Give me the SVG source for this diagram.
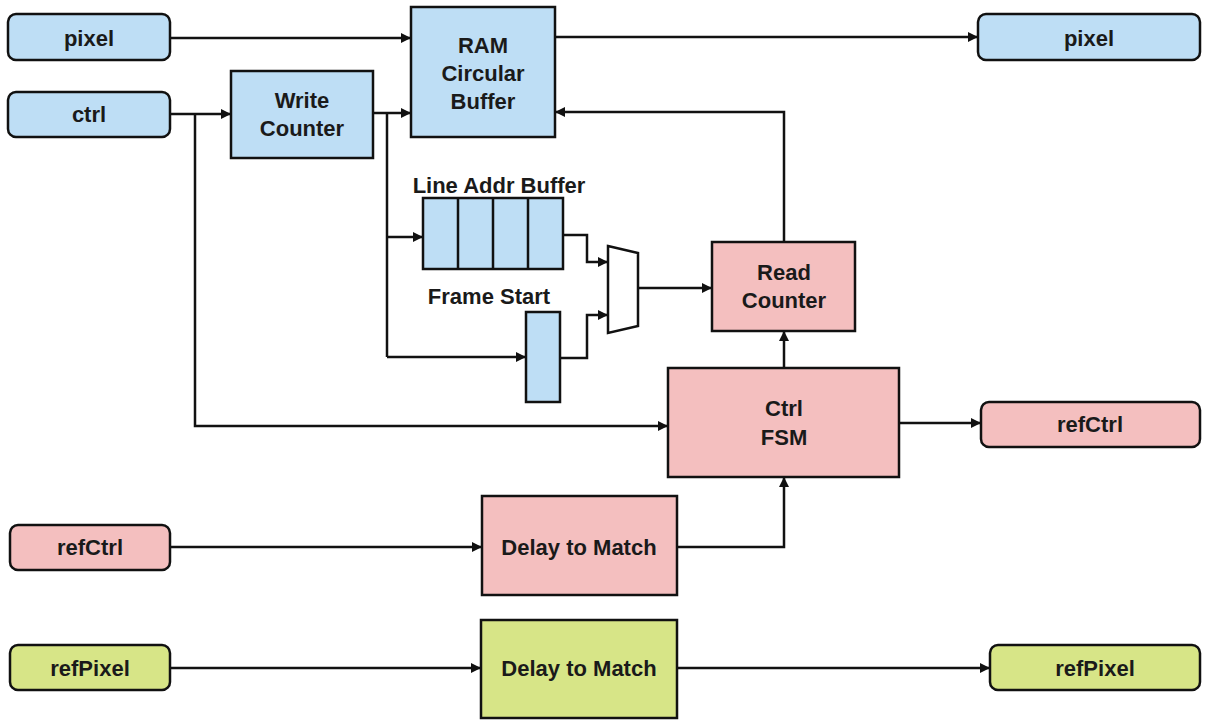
<svg xmlns="http://www.w3.org/2000/svg" width="1215" height="722" viewBox="0 0 1215 722">
<style>
.t{font-family:"Liberation Sans",Arial,sans-serif;font-weight:bold;font-size:22px;fill:#1a1a1a;text-anchor:middle;dominant-baseline:central}
.b{fill:#BEDEF5;stroke:#111;stroke-width:2.5}
.p{fill:#F4BFBF;stroke:#111;stroke-width:2.5}
.g{fill:#D7E587;stroke:#111;stroke-width:2.5}
.c{fill:none;stroke:#111;stroke-width:2.5;marker-end:url(#ah)}
.n{fill:none;stroke:#111;stroke-width:2.5}
</style>
<defs>
<marker id="ah" viewBox="0 0 10 10" refX="10" refY="5" markerWidth="4.4" markerHeight="4" orient="auto" markerUnits="strokeWidth">
<path d="M0,0 L10,5 L0,10 z" fill="#111"/>
</marker>
</defs>
<rect width="1215" height="722" fill="#fff"/>
<g id="connectors">
<path class="c" d="M170,38 H411"/>
<path class="c" d="M555,37 H978"/>
<path class="c" d="M170,114 H231"/>
<path class="c" d="M195,114 V426 H668"/>
<path class="c" d="M373,113 H411"/>
<path class="n" d="M387,113 V357"/>
<path class="c" d="M387,237 H423"/>
<path class="c" d="M387,357 H526"/>
<path class="c" d="M563,235 H587 V262 H608"/>
<path class="c" d="M560,358 H587 V315 H608"/>
<path class="c" d="M638,288 H712"/>
<path class="c" d="M784,242 V112 H555"/>
<path class="c" d="M784,368 V331"/>
<path class="c" d="M899,423 H981"/>
<path class="c" d="M170,547 H482"/>
<path class="c" d="M677,547 H784 V477"/>
<path class="c" d="M170,668 H481"/>
<path class="c" d="M677,668 H990"/>
</g>
<g id="pixel-in"><rect class="b" x="8" y="14" width="162" height="46" rx="8"/><text class="t" x="89" y="38">pixel</text></g>
<g id="ctrl-in"><rect class="b" x="8" y="92" width="162" height="45" rx="8"/><text class="t" x="89" y="114">ctrl</text></g>
<g id="write-counter"><rect class="b" x="231" y="71" width="142" height="87"/><text class="t" x="302" y="100">Write</text><text class="t" x="302" y="128">Counter</text></g>
<g id="ram"><rect class="b" x="411" y="7" width="144" height="130"/><text class="t" x="483" y="45">RAM</text><text class="t" x="483" y="73">Circular</text><text class="t" x="483" y="101">Buffer</text></g>
<g id="pixel-out"><rect class="b" x="978" y="14" width="222" height="46" rx="8"/><text class="t" x="1089" y="38">pixel</text></g>
<g id="line-addr-buffer">
<text class="t" x="499" y="185">Line Addr Buffer</text>
<rect class="b" x="423" y="198" width="140" height="71"/>
<path class="n" d="M458,198 V269 M493,198 V269 M528,198 V269"/>
</g>
<g id="frame-start"><text class="t" x="489" y="296">Frame Start</text><rect class="b" x="526" y="312" width="34" height="90"/></g>
<g id="mux"><path d="M608,246 L638,253 L638,326 L608,333 Z" fill="#fff" stroke="#111" stroke-width="2.5"/></g>
<g id="read-counter"><rect class="p" x="712" y="242" width="143" height="89"/><text class="t" x="784" y="272">Read</text><text class="t" x="784" y="300">Counter</text></g>
<g id="ctrl-fsm"><rect class="p" x="668" y="368" width="231" height="109"/><text class="t" x="784" y="408">Ctrl</text><text class="t" x="784" y="437">FSM</text></g>
<g id="refctrl-out"><rect class="p" x="981" y="402" width="219" height="45" rx="8"/><text class="t" x="1090" y="424">refCtrl</text></g>
<g id="refctrl-in"><rect class="p" x="10" y="525" width="160" height="45" rx="8"/><text class="t" x="90" y="547">refCtrl</text></g>
<g id="delay-ctrl"><rect class="p" x="482" y="496" width="195" height="99"/><text class="t" x="579" y="547">Delay to Match</text></g>
<g id="refpixel-in"><rect class="g" x="10" y="645" width="160" height="45" rx="8"/><text class="t" x="90" y="668">refPixel</text></g>
<g id="delay-pixel"><rect class="g" x="481" y="620" width="196" height="98"/><text class="t" x="579" y="668">Delay to Match</text></g>
<g id="refpixel-out"><rect class="g" x="990" y="645" width="210" height="45" rx="8"/><text class="t" x="1095" y="668">refPixel</text></g>
</svg>
